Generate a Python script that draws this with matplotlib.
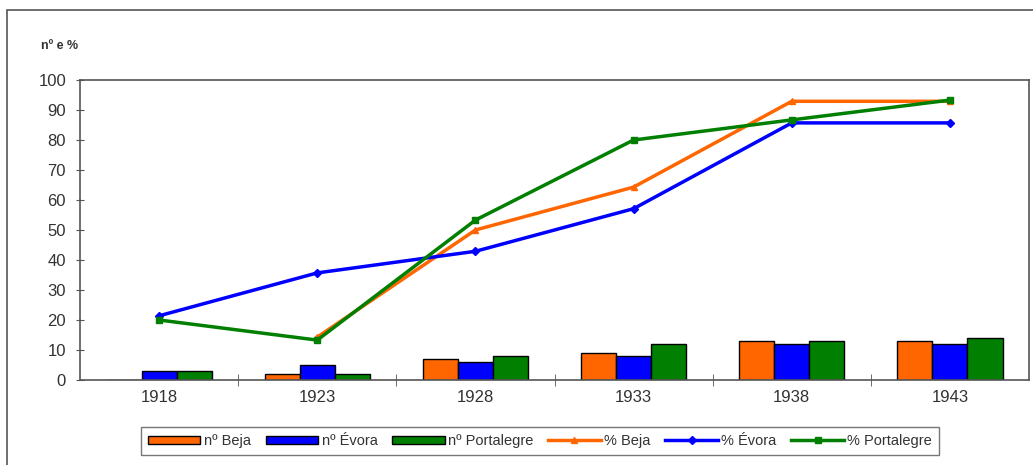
import numpy as np
import matplotlib
matplotlib.use("Agg")
import matplotlib.pyplot as plt
from matplotlib.patches import Rectangle

plt.rcParams['font.family'] = ['Liberation Sans', 'DejaVu Sans']

years = ["1918", "1923", "1928", "1933", "1938", "1943"]

# counts
n_beja = [0, 2, 7, 9, 13, 13]
n_evora = [3, 5, 6, 8, 12, 12]
n_portalegre = [3, 2, 8, 12, 13, 14]

# percentages
p_beja = [np.nan, 14.3, 50.0, 64.3, 92.9, 92.9]
p_evora = [21.4, 35.7, 42.9, 57.1, 85.7, 85.7]
p_portalegre = [20.0, 13.3, 53.3, 80.0, 86.7, 93.3]

c_orange = "#FF6600"
c_blue = "#0000FF"
c_green = "#007F00"

fig = plt.figure(figsize=(10.33, 4.65), dpi=100)
ax = fig.add_axes([80/1033, 1-380/465, (1029-80)/1033, 300/465])

# outer chart frame
fig.patches.append(Rectangle((7/1033, -0.2), 1.2, 1.2 - 10/465,
                             transform=fig.transFigure, fill=False,
                             edgecolor="#555555", linewidth=1.2))

x = np.arange(len(years))
w = 0.222
b1 = ax.bar(x - w, n_beja, w, color=c_orange, edgecolor="black", linewidth=1, label="nº Beja", zorder=2)
b2 = ax.bar(x, n_evora, w, color=c_blue, edgecolor="black", linewidth=1, label="nº Évora", zorder=2)
b3 = ax.bar(x + w, n_portalegre, w, color=c_green, edgecolor="black", linewidth=1, label="nº Portalegre", zorder=2)

l1, = ax.plot(x, p_beja, color=c_orange, lw=2.5, marker="^", ms=5, label="% Beja", zorder=3)
l2, = ax.plot(x, p_evora, color=c_blue, lw=2.5, marker="D", ms=4, label="% Évora", zorder=3)
l3, = ax.plot(x, p_portalegre, color=c_green, lw=2.5, marker="s", ms=5, label="% Portalegre", zorder=3)

ax.set_xlim(-0.5, len(years) - 0.5)
ax.set_ylim(0, 100)
ax.set_yticks(np.arange(0, 101, 10))
ax.set_xticks(x)
ax.set_xticklabels(years)
ax.set_xticks(np.arange(0.5, len(years) - 0.5, 1), minor=True)
ax.tick_params(axis="x", which="major", length=0, pad=7, labelsize=12, labelcolor="#333333")
ax.tick_params(axis="x", which="minor", direction="inout", length=8, color="#555555")
ax.tick_params(axis="y", direction="inout", length=6, color="#555555", labelsize=12,
               labelcolor="#333333", pad=7)
for s in ax.spines.values():
    s.set_color("#555555")
    s.set_linewidth(1.2)

fig.text(41/1033, 1-46/465, "nº e %", fontsize=9, fontweight="bold", color="#333333",
         va="center", ha="left")

handles = [b1, b2, b3, l1, l2, l3]
labels = [h.get_label() for h in handles]
leg = ax.legend(handles, labels, ncol=6, loc="center", bbox_to_anchor=(540/1033, 1-441/465),
                bbox_transform=fig.transFigure, frameon=True, fancybox=False,
                edgecolor="#555555", fontsize=10.5, handlelength=3.6, handleheight=0.5,
                handletextpad=0.25, columnspacing=1.0, borderpad=0.45, labelcolor="#333333")
leg.get_frame().set_linewidth(1.0)

fig.savefig("out.png", dpi=100)
